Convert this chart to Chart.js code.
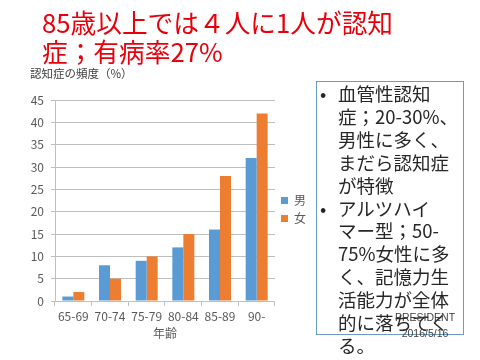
<!DOCTYPE html>
<html><head><meta charset="utf-8">
<script src="https://cdn.jsdelivr.net/npm/chart.js@4/dist/chart.umd.min.js"></script>
<style>
html,body{margin:0;padding:0;background:#fff;}
#wrap{position:relative;width:480px;height:360px;overflow:hidden;font-family:"Noto Sans CJK JP","Noto Sans",sans-serif;}
#c{position:absolute;left:0;top:0;}
.t{position:absolute;white-space:nowrap;}
#title{left:42px;top:7px;font-size:25.7px;line-height:29px;color:#e8000b;}
#ylab{left:30px;top:65px;font-size:11.5px;color:#404040;}
#box{position:absolute;left:316px;top:81px;width:146px;height:252px;border:1px solid #6d9cc0;}
#txt{left:320px;top:82px;font-size:18.5px;line-height:22.9px;color:#262626;}
#txt .b{display:inline-block;width:18px;}
#src{left:395px;top:309px;font-size:10.5px;line-height:16px;color:#404040;font-family:"Liberation Sans",sans-serif;text-align:center;}
</style></head>
<body><div id="wrap">
<canvas id="c" width="480" height="360"></canvas>
<div class="t" id="title">85歳以上では４人に1人が認知<br>症；有病率27%</div>
<div class="t" id="ylab">認知症の頻度（%）</div>
<div id="box"></div>
<div class="t" id="txt"><span class="b">•</span>血管性認知<br><span class="b"></span>症；20-30%、<br><span class="b"></span>男性に多く、<br><span class="b"></span>まだら認知症<br><span class="b"></span>が特徴<br><span class="b">•</span>アルツハイ<br><span class="b"></span>マー型；50-<br><span class="b"></span>75%女性に多<br><span class="b"></span>く、記憶力生<br><span class="b"></span>活能力が全体<br><span class="b"></span>的に落ちてく<br><span class="b"></span>る。</div>
<div class="t" id="src">PRESIDENT<br>2016/5/16</div>
</div>
<script>
const categories = ['65-69','70-74','75-79','80-84','85-89','90-'];
const male = [1, 8, 9, 12, 16, 32];
const female = [2, 5, 10, 15, 28, 42];
const seriesNames = ['男','女'];
const yTicks = {min:0, max:45, step:5};
const xTitle = '年齢';

const FONT = '"Noto Sans CJK JP","Noto Sans",sans-serif';
const shiftLegend = {
  id: 'shiftLegend',
  afterLayout(chart) {
    const l = chart.legend;
    if (l) { l.top -= 11; l.bottom -= 11; }
  }
};
new Chart(document.getElementById('c'), {
  type: 'bar',
  data: {
    labels: categories,
    datasets: [
      {label: seriesNames[0], data: male, backgroundColor: '#5b9bd5', borderWidth: 0},
      {label: seriesNames[1], data: female, backgroundColor: '#ed7d31', borderWidth: 0}
    ]
  },
  plugins: [shiftLegend],
  options: {
    responsive: false,
    animation: false,
    devicePixelRatio: 1,
    layout: {padding: {left: 0, top: 100, right: 164, bottom: 19}},
    plugins: {
      legend: {
        position: 'right',
        labels: {boxWidth: 7, boxHeight: 7, padding: 6, color: '#595959', font: {family: FONT, size: 12}}
      },
      tooltip: {enabled: false}
    },
    datasets: {bar: {categoryPercentage: 0.6, barPercentage: 1.0}},
    scales: {
      x: {
        grid: {drawOnChartArea: false, tickLength: 5, color: '#bfbfbf', offset: true},
        border: {color: '#bfbfbf'},
        ticks: {color: '#595959', font: {family: FONT, size: 12}, padding: 3, maxRotation: 0},
        title: {display: true, text: xTitle, color: '#595959', font: {family: FONT, size: 12}, padding: 0},
        afterFit: s => { s.height = 40; }
      },
      y: {
        min: yTicks.min, max: yTicks.max,
        ticks: {stepSize: yTicks.step, color: '#595959', font: {family: FONT, size: 12}, padding: 7},
        grid: {color: '#bfbfbf', tickLength: 4},
        border: {color: '#bfbfbf'},
        afterFit: s => { s.width = 55; }
      }
    }
  }
});
</script>
</body></html>
